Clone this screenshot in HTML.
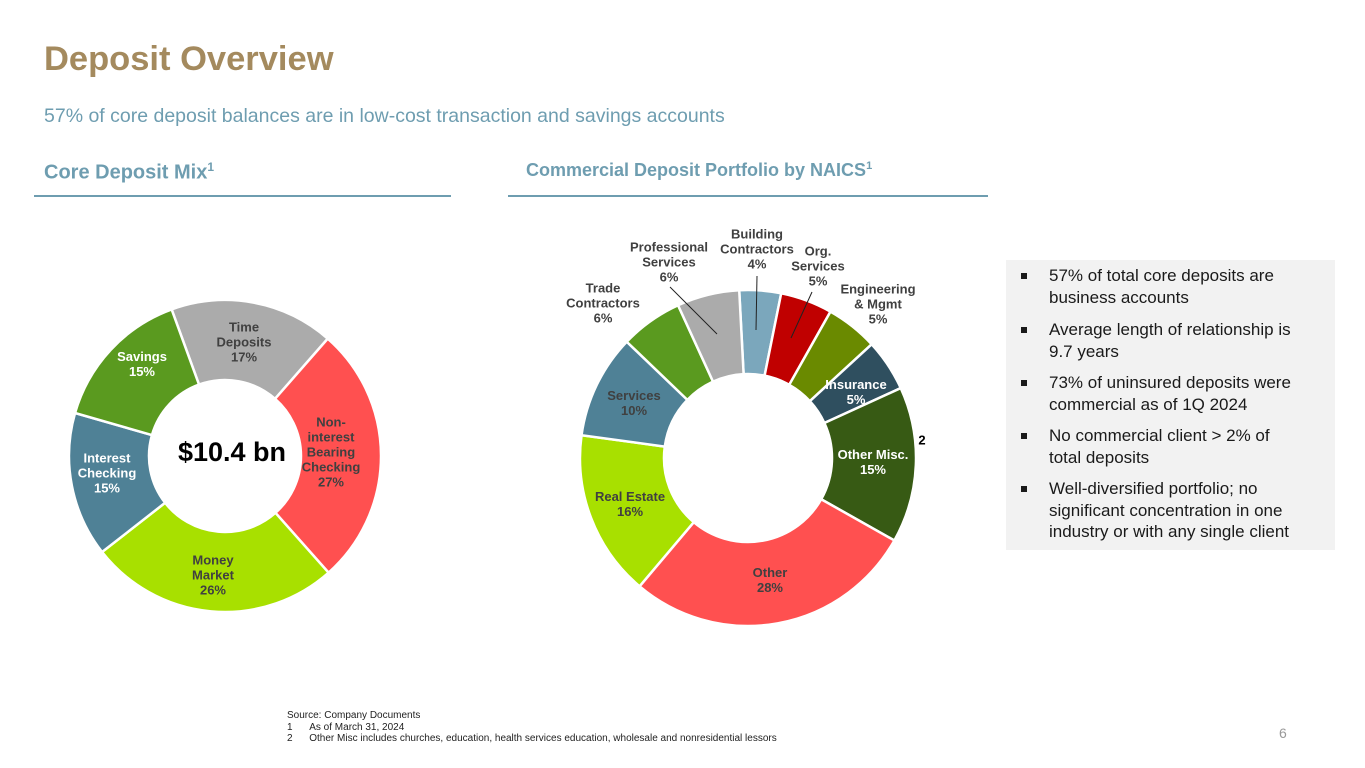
<!DOCTYPE html>
<html><head><meta charset="utf-8"><style>
body{margin:0;width:1365px;height:768px;background:#fff;font-family:"Liberation Sans",sans-serif;position:relative;overflow:hidden}
.a{position:absolute}
.lbl{position:absolute;font-weight:bold;font-size:13px;line-height:15px;text-align:center;transform:translate(-50%,-50%);white-space:nowrap}
.box{position:absolute;left:1006px;top:260px;width:329px;height:290px;background:#F2F2F2}
.bl{position:absolute;left:43px;font-size:17px;line-height:21.5px;color:#1a1a1a}
.bl:before{content:"";position:absolute;left:-28px;top:8px;width:6px;height:6px;background:#1a1a1a}
</style></head><body>
<div class="a" style="left:44px;top:40px;font-size:34.5px;font-weight:bold;color:#A48A5E">Deposit Overview</div>
<div class="a" style="left:44px;top:105px;font-size:19.5px;color:#6E9DB0">57% of core deposit balances are in low-cost transaction and savings accounts</div>
<div class="a" style="left:44px;top:160px;font-size:20px;font-weight:bold;color:#6E9DB0">Core Deposit Mix<sup style="font-size:12px">1</sup></div>
<div class="a" style="left:34px;top:195px;width:417px;height:2px;background:#6E9DB0"></div>
<div class="a" style="left:526px;top:160px;font-size:18px;font-weight:bold;color:#6E9DB0">Commercial Deposit Portfolio by NAICS<sup style="font-size:11px">1</sup></div>
<div class="a" style="left:508px;top:195px;width:480px;height:2px;background:#6E9DB0"></div>

<svg class="a" style="left:0;top:0" width="1365" height="768">
<g id="left"></g><g id="right"></g>
<line x1="670" y1="287" x2="717" y2="334" stroke="#222" stroke-width="1"/>
<line x1="757" y1="276" x2="756" y2="330" stroke="#222" stroke-width="1"/>
<line x1="812" y1="292" x2="791" y2="338" stroke="#222" stroke-width="1"/>
</svg>
<script>
const leftCats=["Time Deposits","Non-interest Bearing Checking","Money Market","Interest Checking","Savings"];
const leftVals=[17,27,26,15,15];
const leftColors=["#ABABAB","#FF5050","#A8E000","#4F8196","#5A9A1F"];
const rightCats=["Building Contractors","Org. Services","Engineering & Mgmt","Insurance","Other Misc.","Other","Real Estate","Services","Trade Contractors","Professional Services"];
const rightVals=[4,5,5,5,15,28,16,10,6,6];
const rightColors=["#7BA7BC","#C00000","#6A8A00","#2F4F5F","#375A14","#FF5050","#A8E000","#4F8196","#5A9A1F","#ABABAB"];
function pt(cx,cy,r,a){const t=(a-90)*Math.PI/180;return [cx+r*Math.cos(t),cy+r*Math.sin(t)];}
function donut(g,cats,vals,cols,cx,cy,ro,ri,start){
  const tot=vals.reduce((s,v)=>s+v,0);let a=start;
  vals.forEach((v,i)=>{
    const sw=v/tot*360,b=a+sw,l=sw>180?1:0;
    const p1=pt(cx,cy,ro,a),p2=pt(cx,cy,ro,b),p3=pt(cx,cy,ri,b),p4=pt(cx,cy,ri,a);
    const p=document.createElementNS("http://www.w3.org/2000/svg","path");
    p.setAttribute("d",`M${p1}A${ro},${ro} 0 ${l} 1 ${p2}L${p3}A${ri},${ri} 0 ${l} 0 ${p4}Z`);
    p.setAttribute("fill",cols[i]);p.setAttribute("stroke","#fff");p.setAttribute("stroke-width","2.5");
    
    
    g.appendChild(p);a=b;});
}
donut(document.getElementById("left"),leftCats,leftVals,leftColors,225,456,156,76,340);
donut(document.getElementById("right"),rightCats,rightVals,rightColors,748,458,168,84,-3);
</script>
<div class="lbl" style="left:244px;top:342px;color:#404040">Time<br>Deposits<br>17%</div>
<div class="lbl" style="left:331px;top:452px;color:#404040">Non-<br>interest<br>Bearing<br>Checking<br>27%</div>
<div class="lbl" style="left:213px;top:575px;color:#404040">Money<br>Market<br>26%</div>
<div class="lbl" style="left:107px;top:473px;color:#fff">Interest<br>Checking<br>15%</div>
<div class="lbl" style="left:142px;top:364px;color:#fff">Savings<br>15%</div>
<div class="lbl" style="left:232px;top:452px;font-size:27px;line-height:30px;color:#000">$10.4 bn</div>

<div class="lbl" style="left:757px;top:249px;color:#404040">Building<br>Contractors<br>4%</div>
<div class="lbl" style="left:818px;top:266px;color:#404040">Org.<br>Services<br>5%</div>
<div class="lbl" style="left:878px;top:304px;color:#404040">Engineering<br>&amp; Mgmt<br>5%</div>
<div class="lbl" style="left:856px;top:392px;color:#fff">Insurance<br>5%</div>
<div class="lbl" style="left:873px;top:462px;color:#fff">Other Misc.<br>15%</div>
<div class="lbl" style="left:922px;top:440px;color:#000">2</div>
<div class="lbl" style="left:770px;top:580px;color:#404040">Other<br>28%</div>
<div class="lbl" style="left:630px;top:504px;color:#404040">Real Estate<br>16%</div>
<div class="lbl" style="left:634px;top:403px;color:#404040">Services<br>10%</div>
<div class="lbl" style="left:603px;top:303px;color:#404040">Trade<br>Contractors<br>6%</div>
<div class="lbl" style="left:669px;top:262px;color:#404040">Professional<br>Services<br>6%</div>

<div class="box">
<div class="bl" style="top:5px">57% of total core deposits are<br>business accounts</div>
<div class="bl" style="top:59px">Average length of relationship is<br>9.7 years</div>
<div class="bl" style="top:112px">73% of uninsured deposits were<br>commercial as of 1Q 2024</div>
<div class="bl" style="top:165px">No commercial client &gt; 2% of<br>total deposits</div>
<div class="bl" style="top:218px">Well-diversified portfolio; no<br>significant concentration in one<br>industry or with any single client</div>
</div>

<div class="a" style="left:287px;top:710px;font-size:10px;line-height:11.5px;color:#222">Source: Company Documents<br>1&nbsp;&nbsp;&nbsp;&nbsp;&nbsp;&nbsp;As of March 31, 2024<br>2&nbsp;&nbsp;&nbsp;&nbsp;&nbsp;&nbsp;Other Misc includes churches, education, health services education, wholesale and nonresidential lessors</div>
<div class="a" style="left:1279px;top:725px;font-size:14px;color:#999">6</div>
</body></html>
